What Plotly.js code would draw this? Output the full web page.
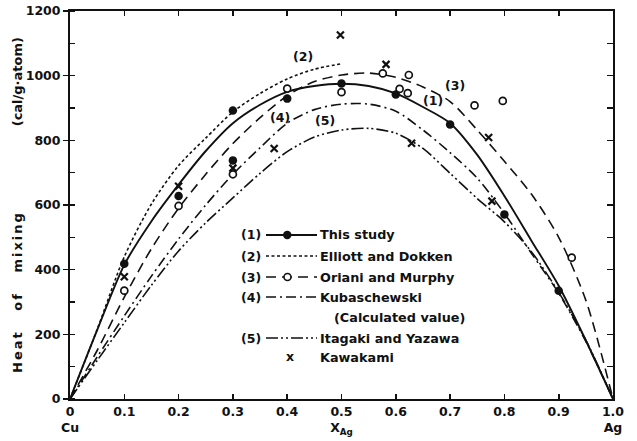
<!DOCTYPE html>
<html>
<head>
<meta charset="utf-8">
<script src="https://cdn.plot.ly/plotly-3.0.1.min.js"></script>
<style>html,body{margin:0;padding:0;background:#fff}</style>
</head>
<body>
<div id="chart" style="width:637px;height:441px"></div>
<script>
// Heat of mixing of liquid Cu–Ag alloys against the atom fraction of Ag

// Composition grid shared by the smoothed curves
const xGrid = [0, 0.05, 0.1, 0.15, 0.2, 0.25, 0.3, 0.35, 0.4, 0.45, 0.5,
               0.55, 0.6, 0.65, 0.7, 0.75, 0.8, 0.85, 0.9, 0.95, 1.0];

// (1) This study – smoothed curve
const curveThisStudy = [0, 213, 415, 550, 663, 767, 853, 910, 950, 968, 975,
                        968, 945, 903, 853, 755, 628, 489, 350, 181, 0];
// (2) Elliott and Dokken – drawn only up to x = 0.5
const xElliott = [0, 0.05, 0.1, 0.15, 0.2, 0.25, 0.3, 0.35, 0.4, 0.45, 0.5];
const curveElliott = [0, 215, 440, 603, 722, 807, 888, 945, 990, 1020, 1037];
// (3) Oriani and Murphy
const curveOriani = [0, 150, 315, 465, 590, 695, 790, 870, 938, 982, 1002,
                     1008, 995, 965, 920, 832, 735, 633, 500, 305, 0];
// (4) Kubaschewski (calculated)
const curveKubaschewski = [0, 130, 257, 380, 495, 600, 695, 777, 853, 895, 912,
                           912, 890, 832, 762, 683, 574, 450, 327, 178, 0];
// (5) Itagaki and Yazawa
const curveItagaki = [0, 119, 236, 352, 458, 545, 622, 698, 765, 810, 832,
                      837, 822, 775, 698, 620, 548, 455, 330, 182, 0];

// Measured points
const studyX = [0.1, 0.2, 0.3, 0.3, 0.4, 0.5, 0.6, 0.7, 0.8, 0.9];
const studyY = [418, 628, 892, 738, 929, 976, 942, 849, 571, 335];
const orianiX = [0.1, 0.2, 0.3, 0.4, 0.5, 0.576, 0.607, 0.622, 0.624, 0.745, 0.797, 0.924];
const orianiY = [335, 597, 695, 960, 949, 1007, 959, 946, 1002, 908, 922, 437];
const kawakamiX = [0.1, 0.2, 0.3, 0.376, 0.498, 0.582, 0.629, 0.771, 0.777];
const kawakamiY = [378, 658, 714, 775, 1126, 1035, 791, 809, 612];

// Axis tick labels
const xTickVals = [0, 0.1, 0.2, 0.3, 0.4, 0.5, 0.6, 0.7, 0.8, 0.9, 1.0];
const xTickText = ['0<br>Cu', '0.1', '0.2', '0.3', '0.4', '0.5<br>X<sub>Ag</sub>',
                   '0.6', '0.7', '0.8', '0.9', '1.0<br>Ag'];

// Legend entries
const legendNums = ['(1)', '(2)', '(3)', '(4)', '(5)', ''];
const legendNames = ['This study', 'Elliott and Dokken', 'Oriani and Murphy',
                     'Kubaschewski', 'Itagaki and Yazawa', 'Kawakami'];

const INK = '#111';
const FONT = 'DejaVu Sans, sans-serif';
const LW = 1.6;
const DASH = {
  study: 'solid',
  elliott: '3px,2.5px',
  oriani: '10px,6px',
  kuba: '10px,4px,2px,4px',
  itagaki: '12px,3px,2px,3px,2px,3px'
};

const traces = [
  {x: xGrid, y: curveThisStudy, mode: 'lines', line: {color: INK, width: 1.9, dash: DASH.study, shape: 'spline', smoothing: 0.8}},
  {x: xElliott, y: curveElliott, mode: 'lines', line: {color: INK, width: LW, dash: DASH.elliott, shape: 'spline', smoothing: 0.8}},
  {x: xGrid, y: curveOriani, mode: 'lines', line: {color: INK, width: LW, dash: DASH.oriani, shape: 'spline', smoothing: 0.8}},
  {x: xGrid, y: curveKubaschewski, mode: 'lines', line: {color: INK, width: LW, dash: DASH.kuba, shape: 'spline', smoothing: 0.8}},
  {x: xGrid, y: curveItagaki, mode: 'lines', line: {color: INK, width: LW, dash: DASH.itagaki, shape: 'spline', smoothing: 0.8}},
  {x: orianiX, y: orianiY, mode: 'markers',
   marker: {symbol: 'circle', size: 7, color: '#fff', line: {color: INK, width: 1.7}}},
  {x: studyX, y: studyY, mode: 'markers',
   marker: {symbol: 'circle', size: 8.5, color: INK, line: {width: 0}}},
  {x: kawakamiX, y: kawakamiY, mode: 'markers', yaxis: 'y2',
   marker: {symbol: 'x-thin', size: 7, line: {color: INK, width: 2.2}}}
];
traces.forEach(t => { t.showlegend = false; t.hoverinfo = 'skip'; });

// Plot box in page pixels, used to place the hand-laid legend key
const L = 70, R = 613, T = 11, B = 399;
const pxX = p => (p - L) / (R - L);
const pxY = p => (B - p) / (B - T);

const tf = (size) => ({family: FONT, size: size, color: INK, weight: 'bold'});

const annotations = [];
const shapes = [];

// Legend key
const rowY = [235, 256, 277, 297, 338, 357];
const keyStyles = ['solid', DASH.elliott, DASH.oriani, DASH.kuba, DASH.itagaki, null];
for (let i = 0; i < legendNames.length; i++) {
  const y = rowY[i];
  if (legendNums[i]) {
    annotations.push({xref: 'paper', yref: 'paper', x: pxX(251), y: pxY(y), text: legendNums[i],
      showarrow: false, xanchor: 'center', yanchor: 'middle', font: tf(12.5)});
  }
  if (keyStyles[i]) {
    shapes.push({type: 'line', xref: 'paper', yref: 'paper', x0: pxX(266), x1: pxX(317),
      y0: pxY(y), y1: pxY(y), line: {color: INK, width: i === 0 ? 1.9 : LW, dash: keyStyles[i]}});
  } else {
    annotations.push({xref: 'paper', yref: 'paper', x: pxX(290), y: pxY(y - 1), text: 'x',
      showarrow: false, xanchor: 'center', yanchor: 'middle', font: tf(12.5)});
  }
  annotations.push({xref: 'paper', yref: 'paper', x: pxX(318), y: pxY(y), text: legendNames[i],
    showarrow: false, xanchor: 'left', yanchor: 'middle', font: tf(12.8)});
}
annotations.push({xref: 'paper', yref: 'paper', x: pxX(332), y: pxY(317), text: '(Calculated value)',
  showarrow: false, xanchor: 'left', yanchor: 'middle', font: tf(12.8)});
// markers inside the key lines for (1) and (3)
shapes.push({type: 'circle', xref: 'paper', yref: 'paper', fillcolor: INK, line: {width: 0},
  x0: pxX(283), x1: pxX(291.5), y0: pxY(239.2), y1: pxY(230.8)});
shapes.push({type: 'circle', xref: 'paper', yref: 'paper', fillcolor: '#fff', line: {color: INK, width: 1.6},
  x0: pxX(284), x1: pxX(291), y0: pxY(280.5), y1: pxY(273.5)});

// Curve labels
const curveLabels = [
  {x: 0.668, y: 922, t: '(1)'},
  {x: 0.429, y: 1058, t: '(2)'},
  {x: 0.709, y: 971, t: '(3)'},
  {x: 0.387, y: 872, t: '(4)'},
  {x: 0.470, y: 860, t: '(5)'}
];
curveLabels.forEach(c => annotations.push({x: c.x, y: c.y, xref: 'x', yref: 'y', text: c.t,
  showarrow: false, xanchor: 'center', yanchor: 'middle', font: tf(12.5)}));

const NB = '\u00a0';
const yTitle = '<span style="letter-spacing:2px">Heat' + NB.repeat(3) + 'of' + NB.repeat(3) + 'mixing' +
  NB.repeat(13) + '</span>(cal/g·atom)';

const layout = {
  width: 637, height: 441,
  margin: {l: L, r: 637 - R, t: T, b: 441 - B},
  paper_bgcolor: '#fff', plot_bgcolor: '#fff',
  showlegend: false,
  xaxis: {
    range: [0, 1], tickvals: xTickVals, ticktext: xTickText,
    ticks: 'inside', ticklen: 5, tickwidth: 1.6, tickcolor: INK,
    showline: true, linewidth: 2, linecolor: INK, mirror: 'ticks',
    showgrid: false, zeroline: false, tickfont: tf(12.5), fixedrange: true
  },
  yaxis: {
    range: [0, 1200], tick0: 0, dtick: 200,
    ticks: 'outside', ticklen: 5, tickwidth: 1.6, tickcolor: INK,
    minor: {dtick: 100, ticks: 'inside', ticklen: 5, tickwidth: 1.4, tickcolor: INK},
    showline: true, linewidth: 2, linecolor: INK, mirror: true,
    showgrid: false, zeroline: false, tickfont: tf(12.5),
    title: {text: yTitle, font: tf(13), standoff: 0}, fixedrange: true
  },
  yaxis2: {
    overlaying: 'y', side: 'right', range: [0, 1200], tick0: 0, dtick: 100,
    ticks: 'inside', ticklen: 6, tickwidth: 1.5, tickcolor: INK,
    showticklabels: false, showline: false, showgrid: false, zeroline: false, fixedrange: true
  },
  annotations: annotations,
  shapes: shapes
};

Plotly.newPlot('chart', traces, layout, {displayModeBar: false, staticPlot: true});
</script>
</body>
</html>
